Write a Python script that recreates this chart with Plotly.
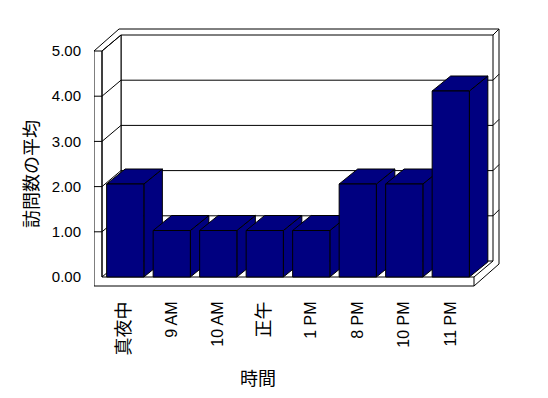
import plotly.graph_objects as go

# ---- data ----
categories = ["真夜中", "9 AM", "10 AM", "正午", "1 PM", "8 PM", "10 PM", "11 PM"]
values = [2, 1, 1, 1, 1, 2, 2, 4]
y_tick_values = [0, 1, 2, 3, 4, 5]
y_tick_labels = ["0.00", "1.00", "2.00", "3.00", "4.00", "5.00"]
x_title = "時間"
y_title = "訪問数の平均"

# ---- geometry (pixels) ----
W, H = 548, 398
ML, MR, MT, MB = 94, 38, 20, 108
PLOT_W = W - ML - MR
PLOT_H = H - MT - MB
CAT_PX = 46.5          # px per category
CAT0_PX = 125.25       # pixel x of first category center
BASE_PX = 277          # pixel y of value 0 (front)
BAR_PX = 46.5          # px per value unit for bars
WALL_PX = 45.2         # px per value unit on walls
BAR_HALF = 0.4
DEPTH_X = 18.5 / CAT_PX
DEPTH_Y = 15 / BAR_PX
NAVY = "#000080"
FONT = "Liberation Sans, Arial, Noto Sans CJK JP, sans-serif"
CJK_FONT = "Noto Sans CJK JP"

x_lo = -(CAT0_PX - ML) / CAT_PX
x_range = [x_lo, x_lo + PLOT_W / CAT_PX]
y_lo = -(MT + PLOT_H - BASE_PX) / BAR_PX
y_range = [y_lo, y_lo + PLOT_H / BAR_PX]
w_lo = -(MT + PLOT_H - BASE_PX) / WALL_PX
w_range = [w_lo, w_lo + PLOT_H / WALL_PX]


def px2x(px):
    return x_lo + (px - ML) / CAT_PX


def py2w(py):
    return (BASE_PX - py) / WALL_PX


def path(points, close=False):
    s = "M" + " L".join(f"{px2x(a):.4f},{py2w(b):.4f}" for a, b in points)
    return s + (" Z" if close else "")


def tick_label(text):
    # CJK glyphs are drawn a little larger in the original
    if any(ord(ch) > 0x2E80 for ch in text):
        return f"<span style='font-size:18px'>{text}</span>"
    return text


line_black = dict(color="black", width=1)
shapes = []


def add_path(points, close=False, fill=None):
    shapes.append(dict(type="path", xref="x", yref="y2", layer="below",
                       path=path(points, close),
                       fillcolor=fill if fill else "rgba(0,0,0,0)",
                       line=line_black))


# outer silhouette of walls + floor
add_path([(94, 286), (94, 51), (119, 29), (499, 29), (499, 264), (474, 286)], True, "white")
# back wall face
add_path([(121, 261), (121, 35), (493, 35), (493, 261)], True, "white")
# left wall inner face
add_path([(102, 51), (121, 35), (121, 261), (102, 277)], True, "white")
# top edges
add_path([(94, 51), (102, 51), (121, 35)])
add_path([(493, 35), (499, 29)])
# front L edges
add_path([(102, 51), (102, 277), (474, 277), (474, 286)])
# floor diagonal
add_path([(474, 277), (493, 261)])
# gridlines
for w in y_tick_values[1:-1]:
    yf = BASE_PX - WALL_PX * w
    yb = yf - 16
    add_path([(94, yf), (102, yf), (121, yb), (493, yb), (499, yb - 6)])

fig = go.Figure()

# side and top faces (drawn behind the front faces)
for i, v in enumerate(values):
    xr = i + BAR_HALF
    xl = i - BAR_HALF
    fig.add_trace(go.Scatter(
        x=[xr, xr, xr + DEPTH_X, xr + DEPTH_X, xr],
        y=[0, v, v + DEPTH_Y, DEPTH_Y, 0],
        mode="lines", fill="toself", fillcolor=NAVY,
        line=line_black, hoverinfo="skip", showlegend=False,
        xaxis="x", yaxis="y"))
    fig.add_trace(go.Scatter(
        x=[xl, xr, xr + DEPTH_X, xl + DEPTH_X, xl],
        y=[v, v, v + DEPTH_Y, v + DEPTH_Y, v],
        mode="lines", fill="toself", fillcolor=NAVY,
        line=line_black, hoverinfo="skip", showlegend=False,
        xaxis="x", yaxis="y"))

# front faces
fig.add_trace(go.Bar(
    x=list(range(len(categories))), y=values, width=2 * BAR_HALF,
    marker=dict(color=NAVY, line=line_black),
    showlegend=False, xaxis="x2", yaxis="y3"))

fig.update_layout(
    width=W, height=H,
    margin=dict(l=ML, r=MR, t=MT, b=MB, pad=0),
    paper_bgcolor="white", plot_bgcolor="rgba(0,0,0,0)",
    font=dict(family=FONT, size=15, color="black"),
    shapes=shapes,
    xaxis=dict(range=x_range, tickmode="array",
               tickvals=list(range(len(categories))),
               ticktext=[tick_label(c) for c in categories],
               tickangle=-90, showgrid=False, zeroline=False, showline=False,
               ticks="outside", ticklen=4, tickcolor="rgba(0,0,0,0)",
               tickfont=dict(size=16, color="black")),
    yaxis=dict(range=y_range, showgrid=False, zeroline=False,
               showline=False, showticklabels=False, ticks=""),
    yaxis2=dict(range=w_range, overlaying="y", side="left", anchor="x",
                tickmode="array", tickvals=y_tick_values, ticktext=y_tick_labels,
                showgrid=False, zeroline=False, showline=False,
                ticks="outside", ticklen=9, tickcolor="rgba(0,0,0,0)",
                tickfont=dict(size=15, color="black")),
    xaxis2=dict(range=x_range, overlaying="x", anchor="y3", visible=False),
    yaxis3=dict(range=y_range, overlaying="y", anchor="x2", visible=False),
    annotations=[
        dict(text=y_title, xref="paper", yref="paper",
             x=(30 - ML) / PLOT_W, y=(MT + PLOT_H - 174) / PLOT_H,
             textangle=-90, showarrow=False,
             font=dict(size=18, family=CJK_FONT, color="black"),
             xanchor="center", yanchor="middle"),
        dict(text=x_title, xref="paper", yref="paper",
             x=(258 - ML) / PLOT_W, y=(MT + PLOT_H - 377) / PLOT_H,
             showarrow=False,
             font=dict(size=18, family=CJK_FONT, color="black"),
             xanchor="center", yanchor="middle"),
    ],
)

fig.write_html("out.html")
